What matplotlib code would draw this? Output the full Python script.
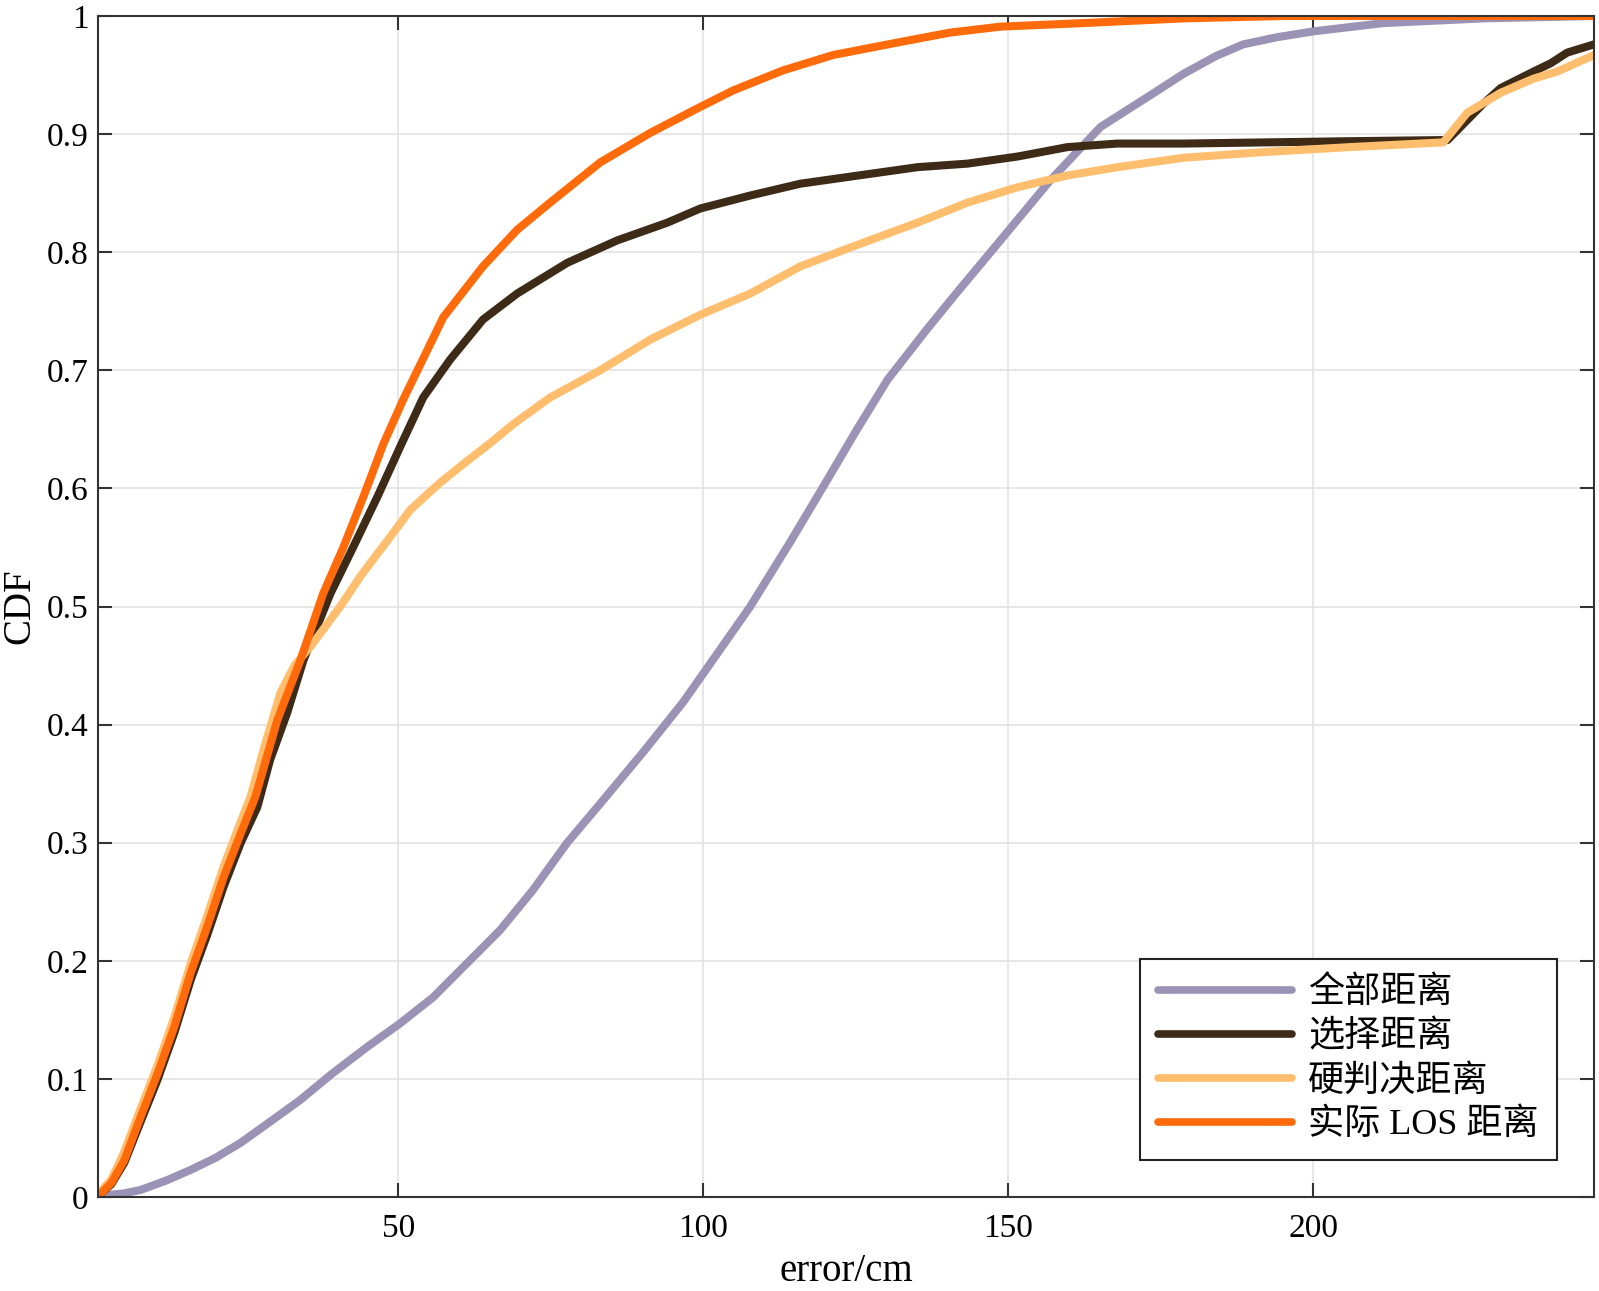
import matplotlib
matplotlib.use("Agg")
import matplotlib.pyplot as plt

# ---- data ----
x_all = [0.8, 3, 5, 7.8, 12, 16, 20, 24.2, 28, 33.9, 39.3, 44.9, 50.3, 55.7, 61.3,
         66.7, 72.1, 77.7, 83.1, 90.2, 96.7, 101.6, 107.7, 114.3, 120.3, 125.2,
         130.2, 136.7, 141.6, 148.7, 156.9, 165.1, 173.3, 178.7, 184, 188.5, 194,
         200, 211.5, 227.9, 246]
y_all = [0, 0.002, 0.003, 0.006, 0.014, 0.023, 0.033, 0.046, 0.06, 0.082, 0.105,
         0.127, 0.147, 0.169, 0.198, 0.226, 0.26, 0.3, 0.333, 0.377, 0.419, 0.455,
         0.5, 0.555, 0.607, 0.650, 0.692, 0.735, 0.766, 0.81, 0.861, 0.906, 0.933,
         0.951, 0.966, 0.976, 0.982, 0.987, 0.994, 0.998, 1.0]

x_sel = [0.8, 1.3, 3, 5.1, 7.8, 10.6, 13.3, 16, 18.7, 21.4, 24.2, 26.9, 29, 31.8,
         34.5, 38.9, 42.6, 46.6, 50.3, 54.1, 58.5, 63.9, 69.5, 77.7, 85.9, 94.1,
         99.5, 107.7, 115.9, 124.1, 135.1, 143.3, 151.5, 159.7, 167.9, 178.7, 206,
         222, 224.1, 227.9, 230.7, 236.1, 238.9, 241.6, 246]
y_sel = [0, 0.003, 0.011, 0.029, 0.064, 0.1, 0.139, 0.184, 0.222, 0.263, 0.3,
         0.33, 0.37, 0.41, 0.455, 0.511, 0.55, 0.593, 0.635, 0.677, 0.709, 0.743,
         0.765, 0.791, 0.81, 0.825, 0.837, 0.848, 0.858, 0.864, 0.872, 0.875,
         0.881, 0.889, 0.892, 0.892, 0.894, 0.895, 0.906, 0.926, 0.939, 0.953,
         0.96, 0.969, 0.976]

x_hard = [0.8, 1.3, 3, 5, 7.8, 10.6, 13.3, 16, 18.7, 21.4, 24.2, 25.8, 28, 30.7,
          33, 35.6, 40.5, 44, 48.7, 52, 56.9, 61, 65, 69, 74.9, 83.1, 91.3, 99.5,
          107.7, 115.9, 124.1, 135.1, 143.3, 151.5, 159.7, 167.9, 178.7, 192.5,
          206, 221.3, 225.2, 230.7, 236.1, 240, 246]
y_hard = [0, 0.005, 0.015, 0.037, 0.075, 0.112, 0.152, 0.198, 0.238, 0.28, 0.318,
          0.339, 0.38, 0.427, 0.45, 0.466, 0.5, 0.527, 0.559, 0.582, 0.605, 0.622,
          0.638, 0.655, 0.677, 0.700, 0.726, 0.747, 0.765, 0.788, 0.804, 0.825,
          0.842, 0.855, 0.865, 0.872, 0.88, 0.885, 0.889, 0.893, 0.918, 0.935,
          0.947, 0.953, 0.967]

x_los = [0.8, 1.3, 3, 5.1, 7.8, 10.6, 13.3, 16, 18.7, 21.4, 24.2, 26.6, 30.2, 34,
         37.7, 41, 44.3, 47.6, 50.8, 57.4, 63.9, 69.5, 74.9, 83.1, 91.3, 99.5,
         104.9, 113.1, 121.3, 132.3, 140.5, 148.7, 162.3, 178.7, 195, 246]
y_los = [0, 0.003, 0.012, 0.031, 0.068, 0.105, 0.144, 0.19, 0.229, 0.271, 0.308,
         0.339, 0.404, 0.455, 0.511, 0.55, 0.593, 0.638, 0.675, 0.745, 0.788,
         0.819, 0.842, 0.876, 0.901, 0.923, 0.937, 0.954, 0.967, 0.978, 0.986,
         0.991, 0.994, 0.998, 1.0, 1.0]

labels = ["全部距离", "选择距离", "硬判决距离", "实际 LOS 距离"]
colors = ["#9A93B5", "#3D2A17", "#FFBE6E", "#FF6A0A"]

y_ticks = [0, 0.1, 0.2, 0.3, 0.4, 0.5, 0.6, 0.7, 0.8, 0.9, 1]
y_tick_labels = ["0", "0.1", "0.2", "0.3", "0.4", "0.5", "0.6", "0.7", "0.8", "0.9", "1"]
x_ticks = [50, 100, 150, 200]

plt.rcParams['font.family'] = ['Liberation Serif', 'Noto Sans CJK SC']

fig = plt.figure(figsize=(15.99, 12.91), dpi=100)
ax = fig.add_axes([0.0613, 0.0728, 0.9356, 0.9148])

series = [(x_all, y_all), (x_sel, y_sel), (x_hard, y_hard), (x_los, y_los)]
for (xs, ys), lab, c in zip(series, labels, colors):
    ax.plot(xs, ys, color=c, lw=5.8, label=lab, solid_joinstyle='round',
            solid_capstyle='round')

ax.set_xlim(0.8, 246)
ax.set_ylim(0, 1)
ax.set_xticks(x_ticks)
ax.set_yticks(y_ticks)
ax.set_yticklabels(y_tick_labels)
ax.tick_params(direction='in', length=10, width=1.5, labelsize=24,
               top=True, right=True, colors='#333333', labelcolor='black')
ax.tick_params(axis='x', pad=12)
ax.tick_params(axis='y', pad=7)
ax.grid(True, color='#e3e3e3', lw=1.2)
for s in ax.spines.values():
    s.set_color('#333333')
    s.set_linewidth(1.5)

ax.set_xlabel("error/cm", fontsize=28, labelpad=6)
ax.set_ylabel("CDF", fontsize=28, labelpad=6)

leg = ax.legend(loc='lower right', bbox_to_anchor=(0.975, 0.031), borderaxespad=0,
                handlelength=3.7, fancybox=False, framealpha=1,
                borderpad=0.5, labelspacing=0.28, handletextpad=0.45,
                prop={'family': ['Liberation Serif', 'Noto Sans CJK SC'], 'size': 26})
leg.get_frame().set_edgecolor('#222222')
leg.get_frame().set_linewidth(1.5)
for h in leg.get_lines():
    h.set_linewidth(5.5)

fig.savefig("out.png", dpi=100)
